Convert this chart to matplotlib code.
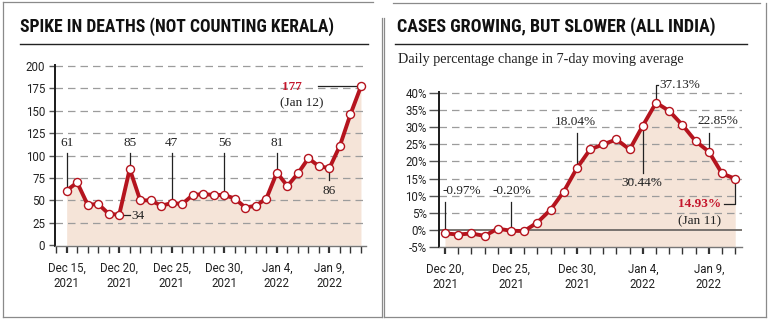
#!/usr/bin/env python3
"""Two-panel newspaper style chart: deaths spike and daily case growth."""

import numpy as np
import pandas as pd
import matplotlib
matplotlib.use('Agg')
import matplotlib.pyplot as plt
import matplotlib.dates as mdates
from matplotlib import font_manager
from matplotlib.lines import Line2D

W, H = 768, 322

# Left panel: daily deaths (not counting Kerala)
death_dates = pd.date_range('2021-12-15', '2022-01-12', freq='D')
deaths = [61, 70, 45, 46, 35, 34, 85, 50, 50, 44, 47, 46, 56, 57, 56,
          56, 52, 42, 44, 52, 81, 66, 80, 97, 88, 86, 111, 146, 177]
death_yticks = [0, 25, 50, 75, 100, 125, 150, 175, 200]
death_xticks = ['2021-12-15', '2021-12-20', '2021-12-25', '2021-12-30', '2022-01-04', '2022-01-09']
death_xlabels = ['Dec 15,\n2021', 'Dec 20,\n2021', 'Dec 25,\n2021',
                 'Dec 30,\n2021', 'Jan 4,\n2022', 'Jan 9,\n2022']

# Right panel: daily % change in 7-day moving average of cases (all India)
case_dates = pd.date_range('2021-12-20', '2022-01-11', freq='D')
case_change = [-0.97, -1.3, -1.0, -1.7, 0.4, -0.20, -0.3, 2.2, 5.9, 11.2, 18.04,
               23.5, 25.0, 26.4, 23.5, 30.44, 37.13, 34.7, 30.6, 25.9, 22.85, 16.5, 14.93]
case_yticks = [-5, 0, 5, 10, 15, 20, 25, 30, 35, 40]
case_ylabels = ['-5%', '0%', '5%', '10%', '15%', '20%', '25%', '30%', '35%', '40%']
case_xticks = ['2021-12-20', '2021-12-25', '2021-12-30', '2022-01-04', '2022-01-09']
case_xlabels = ['Dec 20,\n2021', 'Dec 25,\n2021', 'Dec 30,\n2021', 'Jan 4,\n2022', 'Jan 9,\n2022']

RED = '#b5141e'
LABEL_RED = '#c4162c'
FILL = '#f5e4d8'
GRID = '#9c9c9c'
INK = '#222222'

available = {f.name for f in font_manager.fontManager.ttflist}


def pick(*names):
    for n in names:
        if n in available:
            return n
    return 'DejaVu Sans'


TITLE_FONT = pick('Liberation Sans Narrow', 'Roboto Condensed', 'DejaVu Sans')
SERIF = pick('Liberation Serif', 'DejaVu Serif')
SANS = pick('Roboto', 'Lato', 'DejaVu Sans')


def day(d, offset=0.0):
    return pd.Timestamp(d) + pd.Timedelta(days=offset)


def style_axes(ax, yticks, ylabels, tick_len, ypad):
    for s in ['top', 'right']:
        ax.spines[s].set_visible(False)
    ax.spines['left'].set_color('#1a1a1a')
    ax.spines['left'].set_linewidth(1.4)
    ax.spines['bottom'].set_color('#777777')
    ax.spines['bottom'].set_linewidth(1.0)
    ax.set_yticks(yticks)
    ax.set_yticklabels(ylabels)
    ax.tick_params(axis='y', length=tick_len, width=1.0, color='#555555', pad=ypad,
                   labelsize=8.3, labelcolor=INK)
    ax.xaxis.set_minor_locator(mdates.DayLocator())
    ax.tick_params(axis='x', which='major', length=5, width=1.6, color='#333333',
                   pad=6.5, labelsize=8.3, labelcolor=INK)
    ax.tick_params(axis='x', which='minor', length=5, width=1.0, color='#333333')
    for lbl in ax.get_xticklabels() + ax.get_yticklabels():
        lbl.set_family(SANS)
    for lbl in ax.get_xticklabels():
        lbl.set_linespacing(1.2)


def draw_series(ax, dates, values, base):
    ax.fill_between(dates, values, base, color=FILL, lw=0, zorder=1)
    ax.plot(dates, values, color=RED, lw=2.8, marker='o', ms=5.8,
            mfc='white', mec=RED, mew=1.0, zorder=4, solid_joinstyle='round')


def leader(ax, xs, ys):
    ax.plot(xs, ys, color=INK, lw=0.9, zorder=3, clip_on=False)


def note(ax, x, y, s, ha='center', **kw):
    ax.text(x, y, s, ha=ha, va='center', family=SERIF, fontsize=9.5,
            color=kw.pop('color', INK), zorder=5, **kw)


fig = plt.figure(figsize=(W / 100, H / 100), dpi=100)

# ---------------- left panel ----------------
ax1 = fig.add_axes([55 / W, 1 - 246.1 / H, 310.7 / W, 180.7 / H])
ax1.set_xlim(day('2021-12-15', -1.11), day('2021-12-15', 28.45))
ax1.set_ylim(-1, 200.5)
for v in death_yticks[1:]:
    ax1.axhline(v, color=GRID, lw=0.9, dashes=(6, 4), zorder=1.5)
draw_series(ax1, death_dates, deaths, 0)
ax1.set_xticks([pd.Timestamp(d) for d in death_xticks])
ax1.set_xticklabels(death_xlabels)
style_axes(ax1, death_yticks, [str(v) for v in death_yticks], 4, 3)

for i in [0, 6, 10, 15, 20]:
    d = death_dates[i]
    leader(ax1, [d, d], [deaths[i], 102.5])
    note(ax1, d, 114, str(deaths[i]))
d = death_dates[25]
leader(ax1, [d, d], [deaths[25], 72.7])
note(ax1, d, 60.8, str(deaths[25]))
leader(ax1, [death_dates[5], day(death_dates[5], 1.05)], [deaths[5], deaths[5]])
note(ax1, day(death_dates[5], 1.18), deaths[5] - 1.4, str(deaths[5]), ha='left')
leader(ax1, [day(death_dates[0], 23.94), death_dates[-1]], [deaths[-1], deaths[-1]])
note(ax1, day(death_dates[0], 20.46), 176.8, str(deaths[-1]), ha='left',
     color=LABEL_RED, fontweight='bold')
note(ax1, day(death_dates[0], 20.3), 158.3, '(Jan 12)', ha='left')

# ---------------- right panel ----------------
ax2 = fig.add_axes([439.3 / W, 1 - 247.2 / H, 302.4 / W, 155.4 / H])
ax2.set_xlim(day('2021-12-20', -0.43), day('2021-12-20', 22.49))
ax2.set_ylim(-5, 40.3)
for v in case_yticks[2:]:
    ax2.axhline(v, color=GRID, lw=0.9, dashes=(6, 4), zorder=1.5)
ax2.axhline(0, color='#6e6a66', lw=1.3, zorder=1.6)
draw_series(ax2, case_dates, case_change, -5)
ax2.set_xticks([pd.Timestamp(d) for d in case_xticks])
ax2.set_xticklabels(case_xlabels)
style_axes(ax2, case_yticks, case_ylabels, 7, 2)

c0 = case_dates[0]
leader(ax2, [c0, c0], [case_change[0], 8.2])
note(ax2, day(c0, -0.17), 11.5, f'{case_change[0]:.2f}%', ha='left')
leader(ax2, [case_dates[5]] * 2, [case_change[5], 8.2])
note(ax2, day(c0, 5.08), 11.5, f'{case_change[5]:.2f}%')
leader(ax2, [case_dates[10]] * 2, [case_change[10], 28.4])
note(ax2, day(c0, 9.86), 31.6, f'{case_change[10]:.2f}%')
leader(ax2, [case_dates[16], case_dates[16], day(c0, 16.18)], [case_change[16], 42.4, 42.4])
note(ax2, day(c0, 16.22), 42.3, f'{case_change[16]:.2f}%', ha='left')
leader(ax2, [case_dates[15]] * 2, [case_change[15], 16.5])
note(ax2, day(c0, 14.95), 13.8, f'{case_change[15]:.2f}%')
leader(ax2, [case_dates[20]] * 2, [case_change[20], 28.2])
note(ax2, day(c0, 20.7), 31.9, f'{case_change[20]:.2f}%')
leader(ax2, [day(c0, 21.12), case_dates[22], case_dates[22]], [7.6, 7.6, case_change[22]])
note(ax2, day(c0, 20.96), 7.6, f'{case_change[22]:.2f}%', ha='right',
     color=LABEL_RED, fontweight='bold')
note(ax2, day(c0, 20.96), 2.7, '(Jan 11)', ha='right')

# ---------------- titles, rules and panel frames ----------------
renderer = fig.canvas.get_renderer()


def fit_text(x, y, s, width_px, **kw):
    t = fig.text(x / W, 1 - y / H, s, va='center', ha='left', **kw)
    bb = t.get_window_extent(renderer)
    t.set_fontsize(t.get_fontsize() * width_px / bb.width)
    return t


fit_text(20, 26.7, 'SPIKE IN DEATHS (NOT COUNTING KERALA)', 316,
         family=TITLE_FONT, fontweight='bold', fontstretch='condensed',
         fontsize=16, color='#111111')
fit_text(397, 26.7, 'CASES GROWING, BUT SLOWER (ALL INDIA)', 318,
         family=TITLE_FONT, fontweight='bold', fontstretch='condensed',
         fontsize=16, color='#111111')
fit_text(397.5, 60, 'Daily percentage change in 7-day moving average', 287,
         family=SERIF, fontsize=10, color=INK)


def fig_line(xs, ys, color='#222222', lw=1.0):
    fig.add_artist(Line2D([x / W for x in xs], [1 - y / H for y in ys],
                          color=color, lw=lw, transform=fig.transFigure))


fig_line([20, 368], [43.7, 43.7])
fig_line([395, 747], [43.7, 43.7])

FRAME = '#8a8a8a'
fig_line([3, 373], [2, 2], FRAME, 0.9)
fig_line([3, 3], [2, 317], FRAME, 0.9)
fig_line([3, 382], [317, 317], FRAME, 0.9)
fig_line([381.5, 381.5], [18, 317], FRAME, 0.9)
fig_line([393, 760], [3, 3], FRAME, 0.9)
fig_line([384, 384], [18, 317], FRAME, 0.9)
fig_line([384, 765.5], [316.5, 316.5], FRAME, 0.9)
fig_line([765.5, 765.5], [3, 316.5], FRAME, 0.9)

fig.savefig('out.png', dpi=100)
